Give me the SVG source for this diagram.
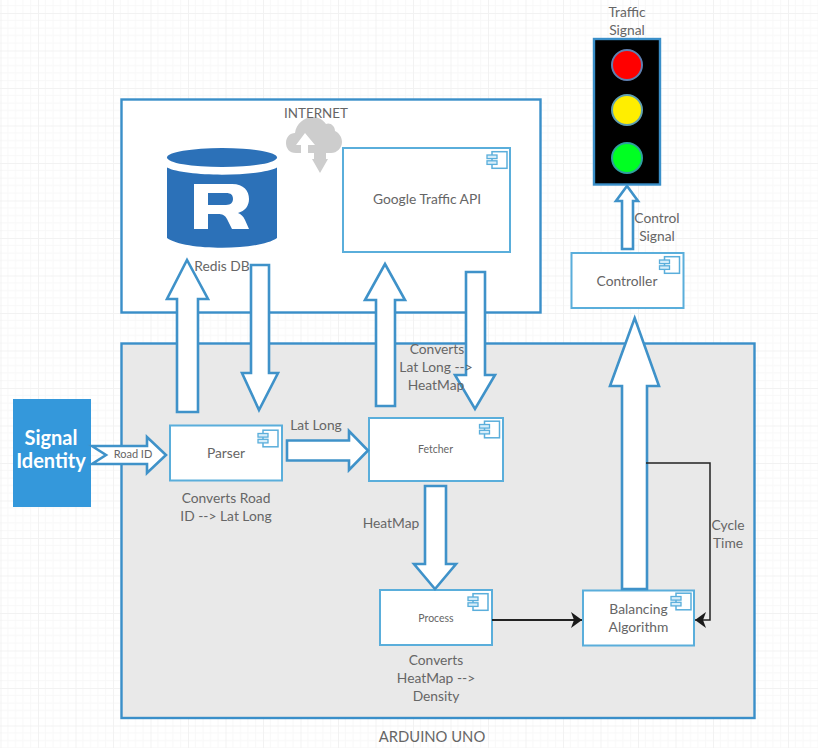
<svg xmlns="http://www.w3.org/2000/svg" width="818" height="748" viewBox="0 0 818 748">
<defs>
<pattern id="grid" x="0.500" y="13" width="37.500" height="37.500" patternUnits="userSpaceOnUse"><path d="M7.500 0V37.500M15 0V37.500M22.500 0V37.500M30 0V37.500M0 7.500H37.500M0 15H37.500M0 22.500H37.500M0 30H37.500" fill="none" stroke="#f8f8f8" stroke-width="1"/><path d="M0.500 0V37.500M0 0.500H37.500" fill="none" stroke="#f2f2f2" stroke-width="1"/></pattern>
<g id="ci"><rect x="-15" y="-8.300" width="15" height="16.600" fill="none" stroke="#5aaedb" stroke-width="1.500"/><rect x="-20" y="-5" width="10" height="3.600" fill="#d8eefa" stroke="#5aaedb" stroke-width="1.300"/><rect x="-20" y="0.800" width="10" height="3.600" fill="#d8eefa" stroke="#5aaedb" stroke-width="1.300"/></g>
<marker id="ah" markerUnits="userSpaceOnUse" markerWidth="14" markerHeight="18" refX="11" refY="9" orient="auto"><path d="M0 1L11 9L0 17L3 9Z" fill="#1a1a1a"/></marker>
</defs>
<style>
text{font-family:Lato,"Open Sans","Liberation Sans",sans-serif;fill:#666;font-size:13.800px;text-anchor:middle}
.comp{fill:#fff;stroke:#5aaedb;stroke-width:2}
.arr{fill:#fff;stroke:#3f92c9;stroke-width:2.600;stroke-linejoin:miter}
.blk{fill:none;stroke:#222}
.small{font-size:10.500px}
</style>
<rect width="818" height="748" fill="#fff"/>
<rect width="818" height="748" fill="url(#grid)"/>
<g id="internet"><rect x="121.500" y="99.500" width="419" height="213" fill="#fff" stroke="#3a8fc9" stroke-width="2.400"/>
<path d="M296 153C289 153 286 148 286 143C286 137 290 133 295 133C296 124 304 117 313 117C319 117 323 120 326 124C330 122 335 126 335 131C339 133 342 137 342 142C342 148 337 153 331 153H326V159H328L320 173L312 159H314V153Z" fill="#cdcdcd"/>
<path d="M305 133L315 145H308V154H301V145H296Z" fill="#fff"/>
<text x="316" y="117.500" style="font-size:13.400px">INTERNET</text></g>
<g id="arduino"><rect x="121.500" y="343.500" width="633" height="374.500" fill="#e9e9e9" stroke="#3a8fc9" stroke-width="2.400"/><text x="432" y="742" style="font-size:14.800px">ARDUINO UNO</text></g>
<g id="redis"><ellipse cx="222" cy="157.500" rx="55" ry="9.500" fill="#2c71b8"/>
<path d="M167 167.500C185 177 259 177 277 167.500V238C259 251 185 251 167 238Z" fill="#2c71b8"/>
<path d="M194 184H232C244 184 249 191 249 199C249 206 245 211 238 213C241 214 243 216 245 220L249 229H232L227 219C225 215 222 214 218 214H208V229H194ZM208 193V205H226C231 205 233 202 233 199C233 195 231 193 226 193Z" fill="#fff" fill-rule="evenodd"/>
<text x="222" y="271">Redis DB</text></g>
<g id="google"><rect class="comp" x="343" y="148" width="167" height="104"/><use href="#ci" x="507" y="160"/><text x="427" y="204">Google Traffic API</text></g>
<g id="traffic-signal"><text x="627" y="17">Traffic</text><text x="627" y="35">Signal</text><rect x="594" y="39" width="66" height="145.500" fill="#000" stroke="#3a8fc9" stroke-width="2.400"/>
<circle cx="627" cy="65" r="15" fill="#f00" stroke="#5f7fb0" stroke-width="2"/><circle cx="627" cy="110" r="15" fill="#ffee00" stroke="#5f9fb0" stroke-width="2"/><circle cx="627" cy="158" r="15" fill="#00ff22" stroke="#2f9f9f" stroke-width="2"/></g>
<g id="controller"><rect class="comp" x="571.500" y="253" width="112" height="55"/><use href="#ci" x="679.500" y="265"/><text x="627" y="286">Controller</text></g>
<g id="signal-identity"><rect x="13" y="399" width="78" height="108" fill="#3498db"/><text x="51" y="445" style="fill:#fff;font-size:20px;font-weight:700">Signal</text><text x="51" y="468" style="fill:#fff;font-size:20px;font-weight:700">Identity</text></g>
<g id="parser"><rect class="comp" x="170" y="425.500" width="112" height="55"/><use href="#ci" x="278" y="438.500"/><text x="226" y="458">Parser</text><text x="226" y="503">Converts Road</text><text x="226" y="521">ID --&gt; Lat Long</text></g>
<g id="fetcher"><rect class="comp" x="369" y="418" width="134" height="63"/><use href="#ci" x="499.500" y="429.500"/><text x="435.500" y="453" class="small">Fetcher</text></g>
<g id="process"><rect class="comp" x="380" y="590" width="112" height="55"/><use href="#ci" x="488" y="602"/><text x="436" y="622" class="small">Process</text><text x="436" y="665">Converts</text><text x="436" y="683">HeatMap --&gt;</text><text x="436" y="701">Density</text></g>
<g id="balancing"><rect class="comp" x="583" y="590.500" width="111" height="55"/><use href="#ci" x="691" y="601.500"/><text x="638.500" y="614">Balancing</text><text x="638.500" y="632">Algorithm</text></g>
<g id="connectors">
<path class="arr" d="M92 446H147V437L166 455L147 473V464H92L106 455Z"/>
<path class="arr" d="M287 440.500H349V431L368 450.500L349 470V460.500H287Z"/>
<path class="arr" d="M177 412V299H167L187 260L208 299H198V412Z"/>
<path class="arr" d="M251 265H269V373H278L259 410L242 373H251Z"/>
<path class="arr" d="M376 406V300H365L385 264L405 300H395V406Z"/>
<path class="arr" d="M466 272H485V375H495L475 409L455 375H466Z"/>
<path class="arr" d="M425 486H446V564H456L435 589L414 564H425Z"/>
<path class="arr" d="M622 249V201H616L627 186L638 201H633V249Z"/>
<path class="arr" d="M622 589V386H610L634.700 318L659 386H647V589Z"/>
<path class="blk" stroke-width="2" d="M492 620H582" marker-end="url(#ah)"/>
<path class="blk" stroke-width="1.500" d="M646 463H710V620H695" marker-end="url(#ah)"/>
</g>
<g id="labels"><text x="133" y="458" style="font-size:11px">Road ID</text><text x="316" y="430">Lat Long</text><text x="437" y="354">Converts</text><text x="436" y="372">Lat Long --&gt;</text><text x="436" y="390">HeatMap</text><text x="391" y="528">HeatMap</text><text x="657" y="223">Control</text><text x="657" y="241">Signal</text><text x="728" y="530">Cycle</text><text x="728" y="548">Time</text></g>
</svg>
